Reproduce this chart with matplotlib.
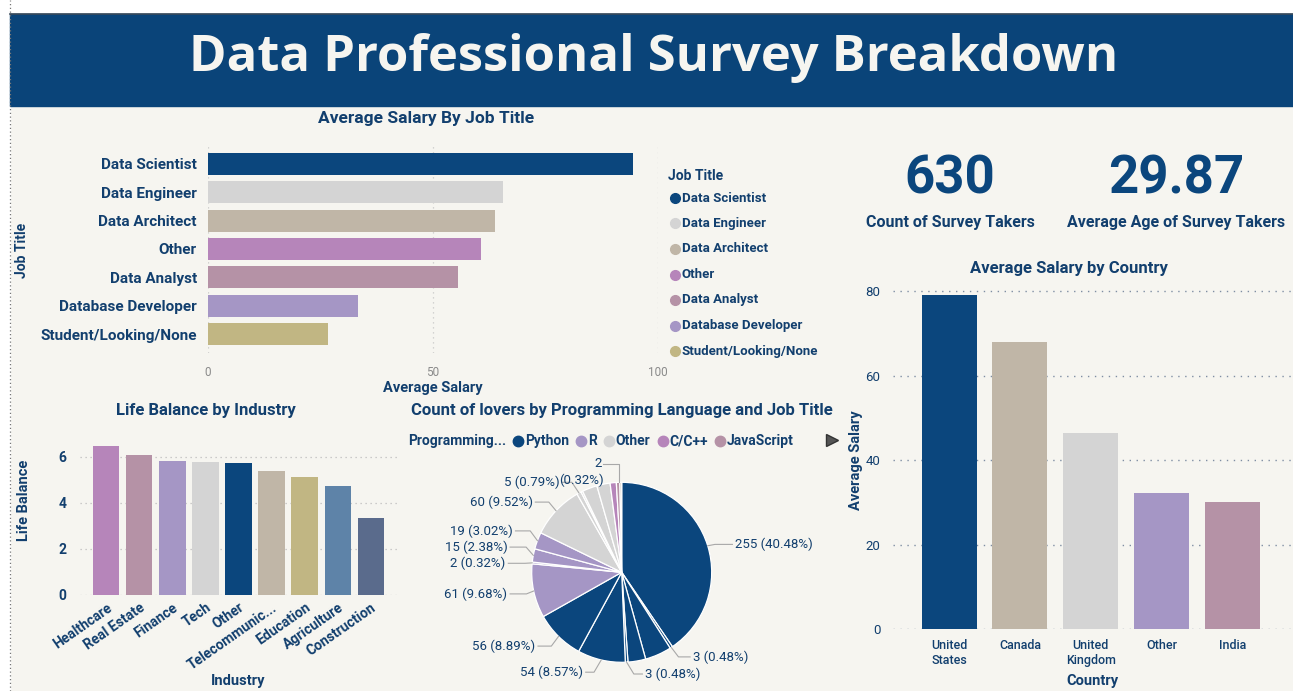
import matplotlib
matplotlib.use('Agg')
import matplotlib.pyplot as plt
from matplotlib.patches import Rectangle
from matplotlib.lines import Line2D
import numpy as np

# ---------------- data ----------------
job_titles = ['Data Scientist', 'Data Engineer', 'Data Architect', 'Other',
              'Data Analyst', 'Database Developer', 'Student/Looking/None']
job_salary = [94.4, 65.6, 63.8, 60.7, 55.6, 33.3, 26.7]

industries = ['Healthcare', 'Real Estate', 'Finance', 'Tech', 'Other',
              'Telecommunic...', 'Education', 'Agriculture', 'Construction']
life_balance = [6.48, 6.09, 5.83, 5.78, 5.75, 5.38, 5.12, 4.73, 3.36]

legend_languages = ['Python', 'R', 'Other', 'C/C++', 'JavaScript']
pie_language = ['Python'] * 7 + ['R'] * 4 + ['Other'] * 5 + ['C/C++', 'JavaScript', 'Java']
pie_counts = [255, 3, 30, 20, 3, 54, 56,
              61, 2, 15, 19,
              60, 5, 2, 17, 15,
              7, 4, 2]

countries = ['United\nStates', 'Canada', 'United\nKingdom', 'Other', 'India']
country_salary = [79.0, 67.9, 46.4, 32.1, 30.0]

kpi_count = 630
kpi_age = 29.87

# ---------------- styles ----------------
NAVY = '#0B467D'
TXT = '#123F6E'
BG = '#F6F5F0'
job_colors = ['#0B467D', '#D4D4D4', '#C0B6A7', '#B685BA', '#B592A6', '#A596C5', '#C1B683']
ind_colors = ['#B685BA', '#B592A6', '#A596C5', '#D4D4D4', '#0B467D', '#C0B6A7', '#C1B683', '#5E83A8', '#5A6B8C']
lang_colors = {'Python': '#0B467D', 'R': '#A596C5', 'Other': '#D4D4D4',
               'C/C++': '#B685BA', 'JavaScript': '#B592A6', 'Java': '#C0B6A7'}
country_colors = ['#0B467D', '#C0B6A7', '#D4D4D4', '#A596C5', '#B592A6']

plt.rcParams['font.family'] = ['Roboto', 'DejaVu Sans']

W, H = 1293, 691
fig = plt.figure(figsize=(W / 100, H / 100), dpi=100, facecolor=BG)


def rect(x0, y0, x1, y1):
    return [x0 / W, 1 - y1 / H, (x1 - x0) / W, (y1 - y0) / H]


def fx(x):
    return x / W


def fy(y):
    return 1 - y / H


# page chrome
fig.patches.append(Rectangle((0, fy(14)), 1, 14 / H, transform=fig.transFigure, color='white', zorder=0))
fig.patches.append(Rectangle((0, 0), fx(10), 1, transform=fig.transFigure, color='white', zorder=0))
fig.patches.append(Rectangle((fx(10), fy(106)), 1 - fx(10), 92 / H, transform=fig.transFigure,
                             color='#0A4479', zorder=1))
fig.add_artist(Line2D([fx(10), 1], [fy(14), fy(14)], color='#3A4A5A', lw=1.2, transform=fig.transFigure))
fig.add_artist(Line2D([fx(10), fx(10)], [0, 1], color='#777777', lw=0.9, ls=(0, (1, 2)),
                      transform=fig.transFigure))
fig.text(fx(654), fy(58), 'Data Professional Survey Breakdown', color='#F6F5F0', fontsize=36.5,
         fontweight='bold', family=['Open Sans', 'DejaVu Sans'],
         ha='center', va='center')

grid_ls = (0, (1, 3))

# ---------------- chart 1: salary by job title ----------------
ax1 = fig.add_axes(rect(208, 145, 658, 353))
ax1.set_facecolor('none')
yy = np.arange(len(job_titles))
ax1.barh(yy, job_salary, height=0.78, color=job_colors, zorder=2)
ax1.set_ylim(len(job_titles) - 0.33, -0.67)
ax1.set_xlim(0, 100)
ax1.set_xticks([0, 50, 100])
ax1.set_yticks(yy)
ax1.set_yticklabels(job_titles, fontsize=11, fontweight='bold', color=TXT)
ax1.tick_params(axis='y', length=0, pad=8)
ax1.tick_params(axis='x', length=0, pad=9, labelsize=8.5, labelcolor='#8A8A8A')
ax1.grid(axis='x', linestyle=grid_ls, color='#C8C8C8', lw=0.9, zorder=0)
for s in ax1.spines.values():
    s.set_visible(False)
fig.text(fx(426), fy(118), 'Average Salary By Job Title', fontsize=12.5, fontweight='bold',
         color=TXT, ha='center', va='center')
fig.text(fx(22), fy(250), 'Job Title', rotation=90, fontsize=10, fontweight='bold', color=TXT,
         ha='center', va='center')
fig.text(fx(433), fy(388), 'Average Salary', fontsize=10.5, fontweight='bold', color=TXT,
         ha='center', va='center')
fig.text(fx(668), fy(176), 'Job Title', fontsize=10, fontweight='bold', color=TXT, ha='left', va='center')
for i, (t, c) in enumerate(zip(job_titles, job_colors)):
    ypix = 198 + i * 25.5
    fig.add_artist(Line2D([fx(675)], [fy(ypix)], marker='o', ms=7, color=c, mec=c,
                          transform=fig.transFigure))
    fig.text(fx(682), fy(ypix), t, fontsize=9.5, fontweight='bold', color=TXT, ha='left', va='center')

# ---------------- chart 2: life balance by industry ----------------
ax2 = fig.add_axes(rect(80, 438.6, 397, 595))
ax2.set_facecolor('none')
xx = np.arange(len(industries))
ax2.bar(xx, life_balance, width=0.79, color=ind_colors, zorder=2)
ax2.set_xlim(-0.8, len(industries) - 0.2)
ax2.set_ylim(0, 6.8)
ax2.set_yticks([0, 2, 4, 6])
ax2.set_xticks(xx)
ax2.set_xticklabels(industries, rotation=35, ha='right', va='top', rotation_mode='anchor',
                    fontsize=10, fontweight='bold', color=TXT)
ax2.tick_params(axis='y', length=0, pad=10, labelsize=10, labelcolor=TXT)
ax2.tick_params(axis='x', length=0, pad=4)
for lbl in ax2.get_yticklabels():
    lbl.set_fontweight('bold')
ax2.grid(axis='y', linestyle=grid_ls, color='#BDBDBD', lw=0.9, zorder=0)
for s in ax2.spines.values():
    s.set_visible(False)
fig.text(fx(206), fy(411), 'Life Balance by Industry', fontsize=12, fontweight='bold', color=TXT,
         ha='center', va='center')
fig.text(fx(24), fy(500), 'Life Balance', rotation=90, fontsize=10.5, fontweight='bold', color=TXT,
         ha='center', va='center')
fig.text(fx(238), fy(681), 'Industry', fontsize=10.5, fontweight='bold', color=TXT,
         ha='center', va='center')

# ---------------- chart 3: pie ----------------
cx, cy, rad = 621.7, 572.3, 90.0
half = 150
ax3 = fig.add_axes(rect(cx - half, cy - half, cx + half, cy + half))
wedges, _ = ax3.pie(pie_counts, colors=[lang_colors[l] for l in pie_language], startangle=90,
                    counterclock=False, radius=1,
                    wedgeprops=dict(edgecolor='white', linewidth=0.9))
ax3.set_xlim(-half / rad, half / rad)
ax3.set_ylim(-half / rad, half / rad)
ax3.set_aspect('equal')
ax3.axis('off')
total = sum(pie_counts)


def pie_label(v):
    return f"{v} ({v / total * 100:.2f}%)"


# label layout: slice index -> (text x, text y, side)
label_layout = {
    0: (1.26, 0.31, 'left'),
    1: (0.79, -0.94, 'left'),
    4: (0.26, -1.13, 'left'),
    5: (-0.43, -1.11, 'right'),
    6: (-0.96, -0.82, 'right'),
    7: (-1.27, -0.24, 'right'),
    8: (-1.29, 0.10, 'right'),
    9: (-1.27, 0.28, 'right'),
    10: (-1.21, 0.46, 'right'),
    11: (-0.99, 0.78, 'right'),
    12: (-0.69, 1.00, 'right'),
}
lead_c = '#A8A8A8'
for idx, (tx, ty, side) in label_layout.items():
    w = wedges[idx]
    mid = np.deg2rad((w.theta1 + w.theta2) / 2)
    ex, ey = np.cos(mid), np.sin(mid)
    sgn = 1 if side == 'left' else -1
    elbow_x = ex + sgn * 0.08
    ax3.plot([ex, elbow_x, tx - sgn * 0.03], [ey, ty, ty], color=lead_c, lw=0.8, clip_on=False)
    ax3.text(tx, ty, pie_label(pie_counts[idx]), ha=side, va='center', fontsize=9.5,
             color=TXT, clip_on=False)
# overlapping label of the third "Other" slice, as in the report
ax3.text(-0.69, 1.02, f"({pie_counts[13] / total * 100:.2f}%)", ha='left', va='center',
         fontsize=9.5, color=TXT, clip_on=False)
w = wedges[18]
mid = np.deg2rad((w.theta1 + w.theta2) / 2)
ax3.plot([np.cos(mid) - 0.02, np.cos(mid) - 0.02, -0.21], [np.sin(mid), 1.2, 1.2], color=lead_c,
         lw=0.8, clip_on=False)
ax3.text(-0.26, 1.21, str(pie_counts[18]), ha='center', va='center', fontsize=9.5, color=TXT,
         clip_on=False)

fig.text(fx(622), fy(411), 'Count of lovers by Programming Language and Job Title', fontsize=12,
         fontweight='bold', color=TXT, ha='center', va='center')

# pie legend (inline)
fig.canvas.draw()
rend = fig.canvas.get_renderer()
xpos = 408
t = fig.text(fx(xpos), fy(441), 'Programming...', fontsize=10, fontweight='bold', color=TXT,
             ha='left', va='center')
xpos = t.get_window_extent(rend).x1 + 12
for lang in legend_languages:
    fig.add_artist(Line2D([fx(xpos)], [fy(441)], marker='o', ms=7.5, color=lang_colors[lang],
                          transform=fig.transFigure))
    t = fig.text(fx(xpos + 7), fy(441), lang, fontsize=10, fontweight='bold', color=TXT,
                 ha='left', va='center')
    xpos = t.get_window_extent(rend).x1 + 12
fig.add_artist(Line2D([fx(832)], [fy(440)], marker='>', ms=8, color='#333333', mfc='#555555',
                      transform=fig.transFigure))

# ---------------- chart 4: salary by country ----------------
ax4 = fig.add_axes(rect(893, 284.7, 1293, 629))
ax4.set_facecolor('none')
xc = np.arange(len(countries))
ax4.bar(xc, country_salary, width=0.775, color=country_colors, zorder=2)
ax4.set_xlim(-0.79, len(countries) - 0.15)
ax4.set_ylim(0, 81.5)
ax4.set_yticks([0, 20, 40, 60, 80])
ax4.set_xticks(xc)
ax4.set_xticklabels(countries, fontsize=9, color=TXT, fontweight='medium', linespacing=1.25)
ax4.tick_params(axis='y', length=0, pad=9, labelsize=9.5, labelcolor=TXT)
ax4.tick_params(axis='x', length=0, pad=7)
ax4.grid(axis='y', linestyle=(0, (1, 4)), color='#7F8EA3', lw=1.0, zorder=0)
for s in ax4.spines.values():
    s.set_visible(False)
fig.text(fx(1069), fy(268), 'Average Salary by Country', fontsize=12, fontweight='bold', color=TXT,
         ha='center', va='center')
fig.text(fx(856), fy(460), 'Average Salary', rotation=90, fontsize=10.5, fontweight='bold',
         color=TXT, ha='center', va='center')
fig.text(fx(1092), fy(681), 'Country', fontsize=10.5, fontweight='bold', color=TXT,
         ha='center', va='center')

# ---------------- KPI cards ----------------
fig.text(fx(950), fy(179), f"{kpi_count}", fontsize=38, fontweight='bold', color=NAVY,
         ha='center', va='center')
fig.text(fx(1176), fy(179), f"{kpi_age:.2f}", fontsize=38, fontweight='bold', color=NAVY,
         ha='center', va='center')
fig.text(fx(950), fy(222), 'Count of Survey Takers', fontsize=11.5, fontweight='bold', color=TXT,
         ha='center', va='center')
fig.text(fx(1176), fy(222), 'Average Age of Survey Takers', fontsize=11.5, fontweight='bold',
         color=TXT, ha='center', va='center')

fig.savefig('out.png', dpi=100, facecolor=BG)
